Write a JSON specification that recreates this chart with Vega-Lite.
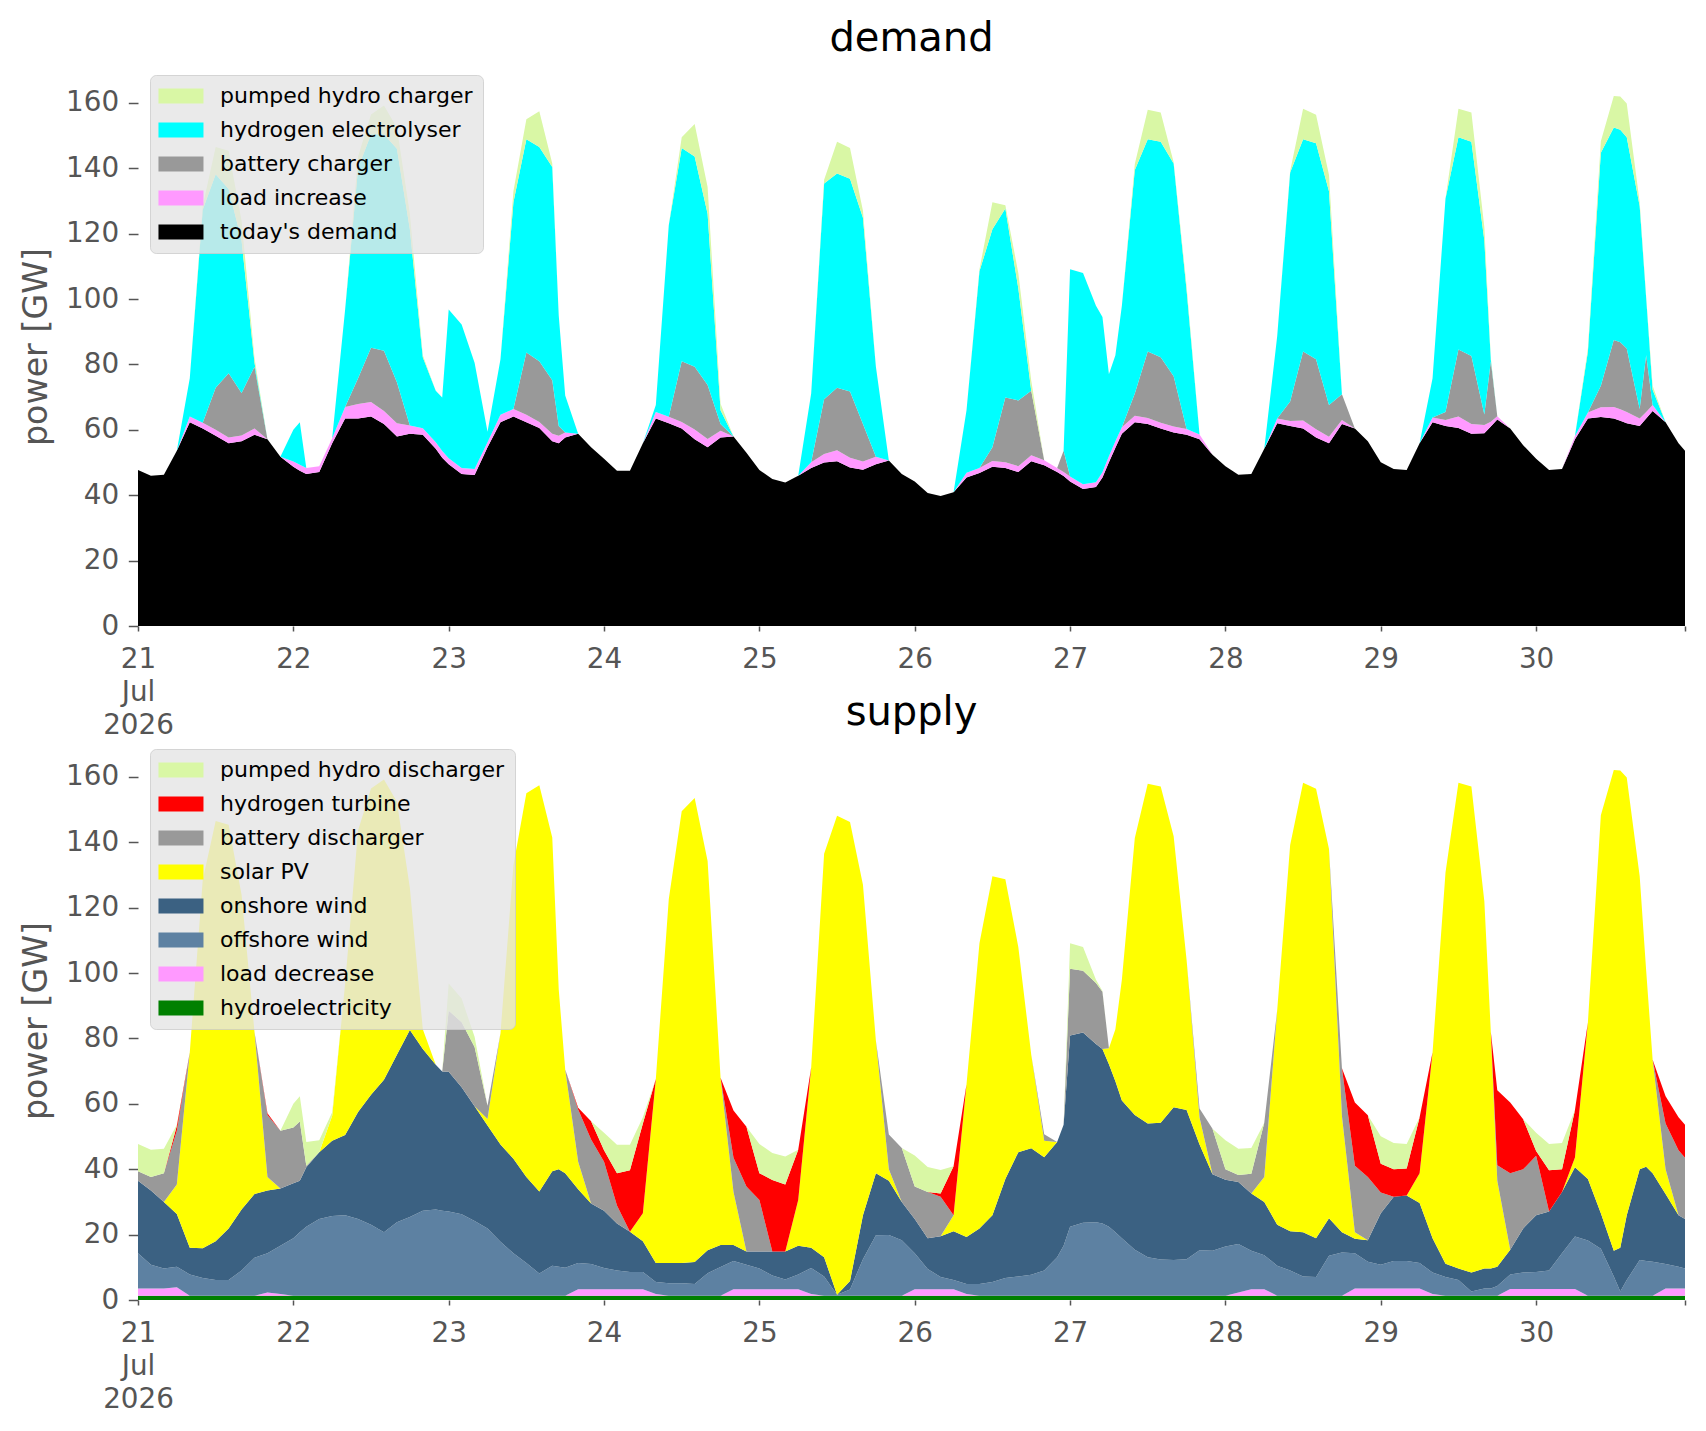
{
  "$schema": "https://vega.github.io/schema/vega-lite/v6.json",
  "background": "white",
  "padding": {"left": 19, "top": 19, "right": 14, "bottom": 18},
  "bounds": "flush",
  "spacing": 115,
  "datasets": {
    "d": [
      {"t":"2026-07-21T00:00","dem":47.7,"li":0,"bat":0,"h2":0,"phs":0,"hyd":1.3,"ld":2.2,"off":10.8,"on":22.2,"pv":0,"batd":2.9,"h2t":0,"phsd":8.3},
      {"t":"2026-07-21T02:00","dem":46.0,"li":0,"bat":0,"h2":0,"phs":0,"hyd":1.3,"ld":2.2,"off":7.3,"on":22.7,"pv":0,"batd":4.1,"h2t":0,"phsd":8.4},
      {"t":"2026-07-21T04:00","dem":46.3,"li":0,"bat":0,"h2":0,"phs":0,"hyd":1.3,"ld":2.2,"off":6.1,"on":20.4,"pv":0,"batd":8.8,"h2t":0,"phsd":7.5},
      {"t":"2026-07-21T06:00","dem":53.6,"li":0,"bat":0,"h2":0,"phs":0,"hyd":1.3,"ld":2.6,"off":6.3,"on":16.1,"pv":9.0,"batd":16.5,"h2t":1.5,"phsd":0.3},
      {"t":"2026-07-21T08:00","dem":62.3,"li":1.8,"bat":0,"h2":11.7,"phs":0,"hyd":1.3,"ld":0,"off":6.5,"on":8.2,"pv":59.8,"batd":0,"h2t":0,"phsd":0},
      {"t":"2026-07-21T10:00","dem":60.4,"li":1.8,"bat":0,"h2":65.1,"phs":1.2,"hyd":1.3,"ld":0,"off":5.4,"on":9.1,"pv":112.7,"batd":0,"h2t":0,"phsd":0},
      {"t":"2026-07-21T12:00","dem":58.2,"li":1.8,"bat":12.9,"h2":65.3,"phs":8.3,"hyd":1.3,"ld":0,"off":4.8,"on":11.9,"pv":128.5,"batd":0,"h2t":0,"phsd":0},
      {"t":"2026-07-21T14:00","dem":55.9,"li":1.8,"bat":19.6,"h2":56.4,"phs":11.7,"hyd":1.3,"ld":0,"off":4.8,"on":15.8,"pv":123.5,"batd":0,"h2t":0,"phsd":0},
      {"t":"2026-07-21T16:00","dem":56.5,"li":1.8,"bat":13.0,"h2":46.6,"phs":6.1,"hyd":1.3,"ld":0,"off":7.7,"on":18.7,"pv":96.3,"batd":0,"h2t":0,"phsd":0},
      {"t":"2026-07-21T18:00","dem":58.5,"li":1.9,"bat":18.9,"h2":1.2,"phs":1.5,"hyd":1.3,"ld":0,"off":11.6,"on":19.5,"pv":49.6,"batd":0,"h2t":0,"phsd":0},
      {"t":"2026-07-21T20:00","dem":57.1,"li":0,"bat":0,"h2":0,"phs":0,"hyd":1.3,"ld":1.0,"off":12.0,"on":19.2,"pv":4.1,"batd":19.0,"h2t":0.5,"phsd":0},
      {"t":"2026-07-21T22:00","dem":51.8,"li":0,"bat":0,"h2":0,"phs":0,"hyd":1.3,"ld":0.5,"off":14.8,"on":17.5,"pv":0,"batd":17.7,"h2t":0,"phsd":0},
      {"t":"2026-07-22T00:00","dem":48.7,"li":1.6,"bat":0,"h2":9.7,"phs":0,"hyd":1.3,"ld":0,"off":17.6,"on":16.8,"pv":0,"batd":17.1,"h2t":0,"phsd":7.2},
      {"t":"2026-07-22T01:00","dem":47.5,"li":1.8,"bat":0,"h2":13.0,"phs":0,"hyd":1.3,"ld":0,"off":19.4,"on":15.8,"pv":0,"batd":18.1,"h2t":0,"phsd":7.7},
      {"t":"2026-07-22T02:00","dem":46.5,"li":1.8,"bat":0,"h2":0,"phs":0,"hyd":1.3,"ld":0,"off":21.1,"on":18.2,"pv":0,"batd":0.5,"h2t":0,"phsd":7.2},
      {"t":"2026-07-22T04:00","dem":47.1,"li":1.8,"bat":0,"h2":0,"phs":0,"hyd":1.3,"ld":0,"off":23.5,"on":20.4,"pv":0,"batd":0,"h2t":0,"phsd":3.7},
      {"t":"2026-07-22T06:00","dem":55.9,"li":1.5,"bat":0,"h2":0,"phs":0,"hyd":1.3,"ld":0,"off":24.4,"on":23.0,"pv":7.7,"batd":0,"h2t":0,"phsd":1.0},
      {"t":"2026-07-22T08:00","dem":63.5,"li":3.5,"bat":0,"h2":29.8,"phs":0,"hyd":1.3,"ld":0,"off":24.6,"on":24.6,"pv":46.3,"batd":0,"h2t":0,"phsd":0},
      {"t":"2026-07-22T10:00","dem":63.5,"li":4.4,"bat":7.9,"h2":64.3,"phs":3.5,"hyd":1.3,"ld":0,"off":23.5,"on":32.7,"pv":86.1,"batd":0,"h2t":0,"phsd":0},
      {"t":"2026-07-22T12:00","dem":64.1,"li":4.4,"bat":16.6,"h2":65.3,"phs":6.1,"hyd":1.3,"ld":0,"off":21.7,"on":39.8,"pv":93.7,"batd":0,"h2t":0,"phsd":0},
      {"t":"2026-07-22T14:00","dem":61.8,"li":4.0,"bat":18.4,"h2":66.2,"phs":8.8,"hyd":1.3,"ld":0,"off":19.4,"on":46.7,"pv":91.8,"batd":0,"h2t":0,"phsd":0},
      {"t":"2026-07-22T16:00","dem":58.0,"li":4.0,"bat":12.6,"h2":71.4,"phs":6.4,"hyd":1.3,"ld":0,"off":22.5,"on":51.2,"pv":77.4,"batd":0,"h2t":0,"phsd":0},
      {"t":"2026-07-22T18:00","dem":58.8,"li":2.5,"bat":0,"h2":60.1,"phs":4.7,"hyd":1.3,"ld":0,"off":24.1,"on":57.2,"pv":43.5,"batd":0,"h2t":0,"phsd":0},
      {"t":"2026-07-22T20:00","dem":58.5,"li":2.0,"bat":0,"h2":21.7,"phs":0.6,"hyd":1.3,"ld":0,"off":26.0,"on":49.5,"pv":6.0,"batd":0,"h2t":0,"phsd":0},
      {"t":"2026-07-22T22:00","dem":54.2,"li":2.0,"bat":0,"h2":15.8,"phs":0,"hyd":1.3,"ld":0,"off":26.4,"on":44.3,"pv":0,"batd":0,"h2t":0,"phsd":0},
      {"t":"2026-07-22T23:00","dem":51.5,"li":2.0,"bat":0,"h2":16.4,"phs":0,"hyd":1.3,"ld":0,"off":26.0,"on":42.6,"pv":0,"batd":0,"h2t":0,"phsd":0},
      {"t":"2026-07-23T00:00","dem":49.5,"li":1.8,"bat":0,"h2":45.5,"phs":0,"hyd":1.3,"ld":0,"off":25.8,"on":42.7,"pv":0,"batd":18.7,"h2t":0,"phsd":8.3},
      {"t":"2026-07-23T02:00","dem":46.5,"li":1.8,"bat":0,"h2":43.9,"phs":0,"hyd":1.3,"ld":0,"off":24.9,"on":38.9,"pv":0,"batd":19.9,"h2t":0,"phsd":7.2},
      {"t":"2026-07-23T04:00","dem":46.2,"li":1.8,"bat":0,"h2":32.5,"phs":0,"hyd":1.3,"ld":0,"off":22.9,"on":35.1,"pv":0,"batd":18.1,"h2t":0,"phsd":3.1},
      {"t":"2026-07-23T06:00","dem":54.7,"li":1.5,"bat":0,"h2":3.2,"phs":0,"hyd":1.3,"ld":0,"off":20.6,"on":31.5,"pv":2.0,"batd":4.0,"h2t":0,"phsd":0},
      {"t":"2026-07-23T08:00","dem":62.3,"li":2.3,"bat":0,"h2":17.0,"phs":0,"hyd":1.3,"ld":0,"off":16.5,"on":29.8,"pv":34.0,"batd":0,"h2t":0,"phsd":0},
      {"t":"2026-07-23T10:00","dem":64.1,"li":2.3,"bat":0,"h2":63.2,"phs":3.4,"hyd":1.3,"ld":0,"off":13.0,"on":28.9,"pv":89.8,"batd":0,"h2t":0,"phsd":0},
      {"t":"2026-07-23T12:00","dem":62.3,"li":2.3,"bat":19.1,"h2":65.2,"phs":6.1,"hyd":1.3,"ld":0,"off":10.0,"on":26.3,"pv":117.4,"batd":0,"h2t":0,"phsd":0},
      {"t":"2026-07-23T14:00","dem":60.6,"li":1.8,"bat":18.6,"h2":65.5,"phs":11.0,"hyd":1.3,"ld":0,"off":6.8,"on":25.1,"pv":124.3,"batd":0,"h2t":0,"phsd":0},
      {"t":"2026-07-23T16:00","dem":56.5,"li":2.3,"bat":16.4,"h2":65.2,"phs":1.1,"hyd":1.3,"ld":0,"off":9.2,"on":28.9,"pv":102.1,"batd":0,"h2t":0,"phsd":0},
      {"t":"2026-07-23T17:00","dem":55.9,"li":2.3,"bat":3.0,"h2":33.8,"phs":0,"hyd":1.3,"ld":0,"off":8.9,"on":29.8,"pv":55.0,"batd":0,"h2t":0,"phsd":0},
      {"t":"2026-07-23T18:00","dem":57.7,"li":1.5,"bat":0,"h2":11.3,"phs":0,"hyd":1.3,"ld":0,"off":8.6,"on":28.9,"pv":31.7,"batd":0,"h2t":0,"phsd":0},
      {"t":"2026-07-23T20:00","dem":58.8,"li":0,"bat":0,"h2":0,"phs":0,"hyd":1.3,"ld":2.0,"off":8.0,"on":22.6,"pv":8.4,"batd":16.0,"h2t":0.5,"phsd":0},
      {"t":"2026-07-23T22:00","dem":54.7,"li":0,"bat":0,"h2":0,"phs":0,"hyd":1.3,"ld":2.0,"off":7.7,"on":18.5,"pv":0,"batd":19.6,"h2t":5.6,"phsd":0},
      {"t":"2026-07-24T00:00","dem":51.2,"li":0,"bat":0,"h2":0,"phs":0,"hyd":1.3,"ld":2.0,"off":6.5,"on":17.5,"pv":0,"batd":15.0,"h2t":3.5,"phsd":5.4},
      {"t":"2026-07-24T02:00","dem":47.5,"li":0,"bat":0,"h2":0,"phs":0,"hyd":1.3,"ld":2.0,"off":5.7,"on":14.4,"pv":0,"batd":5.5,"h2t":9.9,"phsd":8.7},
      {"t":"2026-07-24T04:00","dem":47.5,"li":0,"bat":0,"h2":0,"phs":0,"hyd":1.3,"ld":2.0,"off":5.3,"on":12.3,"pv":0,"batd":0,"h2t":18.8,"phsd":7.8},
      {"t":"2026-07-24T06:00","dem":55.9,"li":0,"bat":0,"h2":0,"phs":0,"hyd":1.3,"ld":2.0,"off":5.3,"on":9.4,"pv":8.5,"batd":0,"h2t":27.5,"phsd":1.9},
      {"t":"2026-07-24T08:00","dem":63.5,"li":2.0,"bat":0,"h2":2.1,"phs":0,"hyd":1.3,"ld":0.5,"off":3.7,"on":5.8,"pv":56.3,"batd":0,"h2t":0,"phsd":0},
      {"t":"2026-07-24T10:00","dem":62.0,"li":2.0,"bat":0,"h2":58.6,"phs":0,"hyd":1.3,"ld":0,"off":3.8,"on":6.2,"pv":111.3,"batd":0,"h2t":0,"phsd":0},
      {"t":"2026-07-24T12:00","dem":60.4,"li":2.0,"bat":18.6,"h2":65.2,"phs":3.3,"hyd":1.3,"ld":0,"off":3.8,"on":6.2,"pv":138.2,"batd":0,"h2t":0,"phsd":0},
      {"t":"2026-07-24T14:00","dem":57.1,"li":3.0,"bat":19.2,"h2":64.3,"phs":10.0,"hyd":1.3,"ld":0,"off":3.6,"on":6.7,"pv":142.0,"batd":0,"h2t":0,"phsd":0},
      {"t":"2026-07-24T16:00","dem":54.7,"li":2.5,"bat":16.5,"h2":52.4,"phs":8.2,"hyd":1.3,"ld":0,"off":6.9,"on":7.0,"pv":119.1,"batd":0,"h2t":0,"phsd":0},
      {"t":"2026-07-24T18:00","dem":57.7,"li":2.0,"bat":2.1,"h2":4.2,"phs":2.0,"hyd":1.3,"ld":0,"off":8.8,"on":6.7,"pv":51.2,"batd":0,"h2t":0,"phsd":0},
      {"t":"2026-07-24T20:00","dem":58.0,"li":0,"bat":0,"h2":0,"phs":0,"hyd":1.3,"ld":2.0,"off":8.6,"on":4.9,"pv":16.2,"batd":10.5,"h2t":14.5,"phsd":0},
      {"t":"2026-07-24T22:00","dem":53.0,"li":0,"bat":0,"h2":0,"phs":0,"hyd":1.3,"ld":2.0,"off":7.5,"on":4.0,"pv":0,"batd":19.9,"h2t":18.3,"phsd":0},
      {"t":"2026-07-25T00:00","dem":47.7,"li":0,"bat":0,"h2":0,"phs":0,"hyd":1.3,"ld":2.0,"off":6.3,"on":5.2,"pv":0,"batd":15.8,"h2t":8.2,"phsd":8.9},
      {"t":"2026-07-25T02:00","dem":45.0,"li":0,"bat":0,"h2":0,"phs":0,"hyd":1.3,"ld":2.0,"off":4.2,"on":7.3,"pv":0,"batd":0,"h2t":21.9,"phsd":8.3},
      {"t":"2026-07-25T04:00","dem":43.9,"li":0,"bat":0,"h2":0,"phs":0,"hyd":1.3,"ld":2.0,"off":3.0,"on":8.5,"pv":0,"batd":0,"h2t":20.5,"phsd":8.6},
      {"t":"2026-07-25T06:00","dem":46.0,"li":0,"bat":0,"h2":0,"phs":0,"hyd":1.3,"ld":2.0,"off":4.5,"on":8.8,"pv":14.0,"batd":0,"h2t":15.4,"phsd":0},
      {"t":"2026-07-25T08:00","dem":48.3,"li":1.8,"bat":0,"h2":21.0,"phs":0,"hyd":1.3,"ld":0.5,"off":8.0,"on":6.2,"pv":55.1,"batd":0,"h2t":0,"phsd":0},
      {"t":"2026-07-25T10:00","dem":50.0,"li":2.6,"bat":16.8,"h2":66.0,"phs":1.1,"hyd":1.3,"ld":0,"off":5.9,"on":5.9,"pv":123.4,"batd":0,"h2t":0,"phsd":0},
      {"t":"2026-07-25T12:00","dem":50.4,"li":3.4,"bat":19.1,"h2":65.5,"phs":9.7,"hyd":1.3,"ld":0,"off":0.3,"on":0,"pv":146.5,"batd":0,"h2t":0,"phsd":0},
      {"t":"2026-07-25T14:00","dem":48.5,"li":3.0,"bat":20.2,"h2":65.1,"phs":9.4,"hyd":1.3,"ld":0,"off":1.9,"on":2.6,"pv":140.4,"batd":0,"h2t":0,"phsd":0},
      {"t":"2026-07-25T16:00","dem":47.8,"li":2.5,"bat":11.5,"h2":63.1,"phs":2.1,"hyd":1.3,"ld":0,"off":11.2,"on":13.4,"pv":101.1,"batd":0,"h2t":0,"phsd":0},
      {"t":"2026-07-25T18:00","dem":49.5,"li":2.3,"bat":0,"h2":27.5,"phs":0,"hyd":1.3,"ld":0,"off":18.5,"on":19.0,"pv":40.5,"batd":0,"h2t":0,"phsd":0},
      {"t":"2026-07-25T20:00","dem":50.6,"li":0,"bat":0,"h2":0,"phs":0,"hyd":1.3,"ld":0,"off":18.6,"on":16.6,"pv":3.5,"batd":10.6,"h2t":0,"phsd":0},
      {"t":"2026-07-25T22:00","dem":46.5,"li":0,"bat":0,"h2":0,"phs":0,"hyd":1.3,"ld":0,"off":17.0,"on":11.7,"pv":0,"batd":16.5,"h2t":0,"phsd":0},
      {"t":"2026-07-26T00:00","dem":44.2,"li":0,"bat":0,"h2":0,"phs":0,"hyd":1.3,"ld":2.0,"off":11.0,"on":10.5,"pv":0,"batd":9.9,"h2t":0,"phsd":9.5},
      {"t":"2026-07-26T02:00","dem":40.7,"li":0,"bat":0,"h2":0,"phs":0,"hyd":1.3,"ld":2.0,"off":6.2,"on":9.4,"pv":0,"batd":14.1,"h2t":0,"phsd":7.7},
      {"t":"2026-07-26T04:00","dem":39.8,"li":0,"bat":0,"h2":0,"phs":0,"hyd":1.3,"ld":2.0,"off":3.7,"on":12.5,"pv":0,"batd":12.1,"h2t":1.0,"phsd":7.2},
      {"t":"2026-07-26T06:00","dem":40.9,"li":0,"bat":0,"h2":0,"phs":0,"hyd":1.3,"ld":2.0,"off":2.8,"on":14.9,"pv":4.9,"batd":0,"h2t":15.0,"phsd":0},
      {"t":"2026-07-26T08:00","dem":45.4,"li":1.5,"bat":0,"h2":19.1,"phs":0,"hyd":1.3,"ld":0.5,"off":3.1,"on":14.4,"pv":46.7,"batd":0,"h2t":0,"phsd":0},
      {"t":"2026-07-26T10:00","dem":46.8,"li":1.5,"bat":0,"h2":60.2,"phs":0.6,"hyd":1.3,"ld":0,"off":3.6,"on":17.0,"pv":87.2,"batd":0,"h2t":0,"phsd":0},
      {"t":"2026-07-26T12:00","dem":48.7,"li":1.8,"bat":4.2,"h2":66.7,"phs":8.2,"hyd":1.3,"ld":0,"off":4.2,"on":20.4,"pv":103.7,"batd":0,"h2t":0,"phsd":0},
      {"t":"2026-07-26T14:00","dem":48.3,"li":1.8,"bat":19.8,"h2":57.8,"phs":1.0,"hyd":1.3,"ld":0,"off":5.4,"on":30.3,"pv":91.7,"batd":0,"h2t":0,"phsd":0},
      {"t":"2026-07-26T16:00","dem":47.1,"li":1.8,"bat":20.1,"h2":34.3,"phs":4.7,"hyd":1.3,"ld":0,"off":5.9,"on":38.0,"pv":62.8,"batd":0,"h2t":0,"phsd":0},
      {"t":"2026-07-26T18:00","dem":50.4,"li":1.8,"bat":19.8,"h2":0,"phs":3.0,"hyd":1.3,"ld":0,"off":6.4,"on":38.7,"pv":28.6,"batd":0,"h2t":0,"phsd":0},
      {"t":"2026-07-26T20:00","dem":49.2,"li":1.5,"bat":0,"h2":0,"phs":0,"hyd":1.3,"ld":0,"off":7.7,"on":34.7,"pv":5.0,"batd":2.0,"h2t":0,"phsd":0},
      {"t":"2026-07-26T22:00","dem":47.1,"li":1.2,"bat":0,"h2":0,"phs":0,"hyd":1.3,"ld":0,"off":11.8,"on":35.2,"pv":0,"batd":0,"h2t":0,"phsd":0},
      {"t":"2026-07-26T23:00","dem":45.9,"li":1.2,"bat":6.5,"h2":0,"phs":0,"hyd":1.3,"ld":0,"off":15.3,"on":37.0,"pv":0,"batd":0,"h2t":0,"phsd":0},
      {"t":"2026-07-27T00:00","dem":44.2,"li":1.5,"bat":0,"h2":63.4,"phs":0,"hyd":1.3,"ld":0,"off":21.1,"on":58.5,"pv":0,"batd":20.4,"h2t":0,"phsd":7.8},
      {"t":"2026-07-27T02:00","dem":41.9,"li":1.5,"bat":0,"h2":64.6,"phs":0,"hyd":1.3,"ld":0,"off":22.3,"on":58.2,"pv":0,"batd":18.9,"h2t":0,"phsd":7.3},
      {"t":"2026-07-27T04:00","dem":42.5,"li":1.5,"bat":0,"h2":54.0,"phs":0,"hyd":1.3,"ld":0,"off":22.5,"on":54.5,"pv":0,"batd":18.7,"h2t":0,"phsd":1.0},
      {"t":"2026-07-27T05:00","dem":45.4,"li":1.6,"bat":0,"h2":47.5,"phs":0,"hyd":1.3,"ld":0,"off":22.1,"on":53.4,"pv":0,"batd":17.5,"h2t":0,"phsd":0.2},
      {"t":"2026-07-27T06:00","dem":50.1,"li":1.8,"bat":0,"h2":25.1,"phs":0,"hyd":1.3,"ld":0,"off":21.1,"on":49.7,"pv":4.9,"batd":0,"h2t":0,"phsd":0},
      {"t":"2026-07-27T07:00","dem":54.5,"li":2.0,"bat":0,"h2":26.3,"phs":0,"hyd":1.3,"ld":0,"off":19.4,"on":46.2,"pv":15.9,"batd":0,"h2t":0,"phsd":0},
      {"t":"2026-07-27T08:00","dem":58.8,"li":2.0,"bat":0,"h2":37.2,"phs":0,"hyd":1.3,"ld":0,"off":17.6,"on":42.1,"pv":37.0,"batd":0,"h2t":0,"phsd":0},
      {"t":"2026-07-27T10:00","dem":62.3,"li":2.0,"bat":6.8,"h2":68.4,"phs":1.8,"hyd":1.3,"ld":0,"off":14.1,"on":41.2,"pv":84.7,"batd":0,"h2t":0,"phsd":0},
      {"t":"2026-07-27T12:00","dem":61.8,"li":1.8,"bat":20.4,"h2":64.9,"phs":9.0,"hyd":1.3,"ld":0,"off":11.8,"on":40.9,"pv":103.9,"batd":0,"h2t":0,"phsd":0},
      {"t":"2026-07-27T14:00","dem":60.4,"li":1.8,"bat":20.0,"h2":65.9,"phs":9.0,"hyd":1.3,"ld":0,"off":11.1,"on":41.8,"pv":102.9,"batd":0,"h2t":0,"phsd":0},
      {"t":"2026-07-27T16:00","dem":59.2,"li":1.8,"bat":15.4,"h2":65.1,"phs":0.4,"hyd":1.3,"ld":0,"off":10.9,"on":46.8,"pv":82.9,"batd":0,"h2t":0,"phsd":0},
      {"t":"2026-07-27T18:00","dem":58.5,"li":1.8,"bat":0,"h2":42.4,"phs":1.3,"hyd":1.3,"ld":0,"off":11.2,"on":45.6,"pv":45.9,"batd":0,"h2t":0,"phsd":0},
      {"t":"2026-07-27T20:00","dem":57.1,"li":1.5,"bat":0,"h2":0,"phs":0,"hyd":1.3,"ld":0,"off":13.9,"on":32.4,"pv":8.2,"batd":2.8,"h2t":0,"phsd":0},
      {"t":"2026-07-27T22:00","dem":52.4,"li":0,"bat":0,"h2":0,"phs":0,"hyd":1.3,"ld":0,"off":13.8,"on":23.4,"pv":0,"batd":13.9,"h2t":0,"phsd":0},
      {"t":"2026-07-28T00:00","dem":48.9,"li":0,"bat":0,"h2":0,"phs":0,"hyd":1.3,"ld":0,"off":15.1,"on":20.4,"pv":0,"batd":3.2,"h2t":0,"phsd":8.9},
      {"t":"2026-07-28T02:00","dem":46.3,"li":0,"bat":0,"h2":0,"phs":0,"hyd":1.3,"ld":1.0,"off":14.8,"on":19.0,"pv":0,"batd":2.1,"h2t":0,"phsd":8.1},
      {"t":"2026-07-28T04:00","dem":46.5,"li":0,"bat":0,"h2":0,"phs":0,"hyd":1.3,"ld":2.0,"off":11.8,"on":17.5,"pv":0,"batd":6.0,"h2t":0,"phsd":7.9},
      {"t":"2026-07-28T06:00","dem":54.2,"li":0,"bat":0,"h2":0,"phs":0,"hyd":1.3,"ld":2.0,"off":10.4,"on":16.3,"pv":7.6,"batd":16.6,"h2t":0,"phsd":0},
      {"t":"2026-07-28T08:00","dem":62.0,"li":1.5,"bat":0,"h2":25.2,"phs":0,"hyd":1.3,"ld":0,"off":9.2,"on":12.5,"pv":65.7,"batd":0,"h2t":0,"phsd":0},
      {"t":"2026-07-28T10:00","dem":61.2,"li":1.5,"bat":6.0,"h2":70.0,"phs":0.5,"hyd":1.3,"ld":0,"off":7.7,"on":12.0,"pv":118.2,"batd":0,"h2t":0,"phsd":0},
      {"t":"2026-07-28T12:00","dem":60.4,"li":2.5,"bat":21.1,"h2":64.9,"phs":9.3,"hyd":1.3,"ld":0,"off":5.9,"on":13.5,"pv":137.5,"batd":0,"h2t":0,"phsd":0},
      {"t":"2026-07-28T14:00","dem":57.7,"li":2.5,"bat":21.4,"h2":66.1,"phs":8.7,"hyd":1.3,"ld":0,"off":5.7,"on":11.9,"pv":137.5,"batd":0,"h2t":0,"phsd":0},
      {"t":"2026-07-28T16:00","dem":55.9,"li":2.0,"bat":9.7,"h2":65.4,"phs":5.0,"hyd":1.3,"ld":0,"off":12.2,"on":11.5,"pv":113.0,"batd":0,"h2t":0,"phsd":0},
      {"t":"2026-07-28T18:00","dem":61.8,"li":1.2,"bat":7.9,"h2":0,"phs":0,"hyd":1.3,"ld":0,"off":13.2,"on":6.2,"pv":35.6,"batd":14.6,"h2t":0,"phsd":0},
      {"t":"2026-07-28T20:00","dem":60.4,"li":0,"bat":0,"h2":0,"phs":0,"hyd":1.3,"ld":2.2,"off":10.8,"on":4.4,"pv":2.0,"batd":20.4,"h2t":19.3,"phsd":0},
      {"t":"2026-07-28T22:00","dem":56.5,"li":0,"bat":0,"h2":0,"phs":0,"hyd":1.3,"ld":2.2,"off":8.2,"on":6.6,"pv":0,"batd":19.3,"h2t":18.9,"phsd":0},
      {"t":"2026-07-29T00:00","dem":50.1,"li":0,"bat":0,"h2":0,"phs":0,"hyd":1.3,"ld":2.2,"off":7.3,"on":15.7,"pv":0,"batd":6.4,"h2t":8.8,"phsd":8.4},
      {"t":"2026-07-29T02:00","dem":48.0,"li":0,"bat":0,"h2":0,"phs":0,"hyd":1.3,"ld":2.2,"off":8.4,"on":19.7,"pv":0,"batd":0,"h2t":8.4,"phsd":8.0},
      {"t":"2026-07-29T04:00","dem":47.7,"li":0,"bat":0,"h2":0,"phs":0,"hyd":1.3,"ld":2.2,"off":8.4,"on":20.1,"pv":0,"batd":0,"h2t":8.2,"phsd":7.5},
      {"t":"2026-07-29T06:00","dem":55.9,"li":0,"bat":0,"h2":0,"phs":0,"hyd":1.3,"ld":2.2,"off":7.8,"on":18.4,"pv":9.1,"batd":0,"h2t":17.1,"phsd":0},
      {"t":"2026-07-29T08:00","dem":62.3,"li":1.5,"bat":0,"h2":12.0,"phs":0,"hyd":1.3,"ld":0.5,"off":6.6,"on":10.5,"pv":56.9,"batd":0,"h2t":0,"phsd":0},
      {"t":"2026-07-29T10:00","dem":61.2,"li":1.8,"bat":2.5,"h2":65.3,"phs":0,"hyd":1.3,"ld":0,"off":5.7,"on":4.1,"pv":119.7,"batd":0,"h2t":0,"phsd":0},
      {"t":"2026-07-29T12:00","dem":60.6,"li":3.5,"bat":20.5,"h2":64.9,"phs":8.7,"hyd":1.3,"ld":0,"off":4.8,"on":3.5,"pv":148.6,"batd":0,"h2t":0,"phsd":0},
      {"t":"2026-07-29T14:00","dem":58.8,"li":3.0,"bat":20.8,"h2":65.5,"phs":9.0,"hyd":1.3,"ld":0,"off":1.3,"on":5.8,"pv":148.7,"batd":0,"h2t":0,"phsd":0},
      {"t":"2026-07-29T16:00","dem":59.0,"li":2.5,"bat":3.2,"h2":53.3,"phs":4.0,"hyd":1.3,"ld":0,"off":2.2,"on":6.1,"pv":112.4,"batd":0,"h2t":0,"phsd":0},
      {"t":"2026-07-29T17:00","dem":61.0,"li":1.5,"bat":18.5,"h2":0.5,"phs":0.5,"hyd":1.3,"ld":0,"off":2.2,"on":6.1,"pv":72.4,"batd":0,"h2t":0,"phsd":0},
      {"t":"2026-07-29T18:00","dem":63.2,"li":1.0,"bat":0,"h2":0,"phs":0,"hyd":1.3,"ld":0,"off":3.0,"on":5.9,"pv":26.3,"batd":4.7,"h2t":23.0,"phsd":0},
      {"t":"2026-07-29T20:00","dem":60.4,"li":0,"bat":0,"h2":0,"phs":0,"hyd":1.3,"ld":2.1,"off":4.4,"on":7.6,"pv":0,"batd":23.4,"h2t":21.6,"phsd":0},
      {"t":"2026-07-29T22:00","dem":55.3,"li":0,"bat":0,"h2":0,"phs":0,"hyd":1.3,"ld":2.1,"off":5.0,"on":13.5,"pv":0,"batd":18.1,"h2t":15.3,"phsd":0},
      {"t":"2026-07-30T00:00","dem":51.2,"li":0,"bat":0,"h2":0,"phs":0,"hyd":1.3,"ld":2.1,"off":5.2,"on":17.3,"pv":0,"batd":18.2,"h2t":1.5,"phsd":5.6},
      {"t":"2026-07-30T02:00","dem":47.7,"li":0,"bat":0,"h2":0,"phs":0,"hyd":1.3,"ld":2.1,"off":5.6,"on":18.1,"pv":0,"batd":0,"h2t":12.6,"phsd":8.0},
      {"t":"2026-07-30T04:00","dem":48.0,"li":0,"bat":0,"h2":0,"phs":0,"hyd":1.3,"ld":2.1,"off":10.9,"on":18.7,"pv":0,"batd":0,"h2t":7.0,"phsd":8.0},
      {"t":"2026-07-30T06:00","dem":57.1,"li":1.0,"bat":0,"h2":0,"phs":0,"hyd":1.3,"ld":2.1,"off":16.0,"on":21.2,"pv":3.0,"batd":0,"h2t":14.5,"phsd":0},
      {"t":"2026-07-30T08:00","dem":63.5,"li":1.8,"bat":0,"h2":18.7,"phs":1.0,"hyd":1.3,"ld":0,"off":16.9,"on":18.8,"pv":48.0,"batd":0,"h2t":0,"phsd":0},
      {"t":"2026-07-30T10:00","dem":63.9,"li":3.0,"bat":6.6,"h2":71.3,"phs":3.5,"hyd":1.3,"ld":0,"off":14.4,"on":10.8,"pv":121.8,"batd":0,"h2t":0,"phsd":0},
      {"t":"2026-07-30T12:00","dem":63.5,"li":3.5,"bat":20.5,"h2":65.0,"phs":9.6,"hyd":1.3,"ld":0,"off":5.9,"on":7.9,"pv":147.0,"batd":0,"h2t":0,"phsd":0},
      {"t":"2026-07-30T13:00","dem":62.8,"li":3.5,"bat":20.5,"h2":65.0,"phs":10.2,"hyd":1.3,"ld":0,"off":1.3,"on":13.4,"pv":146.0,"batd":0,"h2t":0,"phsd":0},
      {"t":"2026-07-30T14:00","dem":62.0,"li":3.5,"bat":19.4,"h2":64.6,"phs":10.3,"hyd":1.3,"ld":0,"off":4.8,"on":19.8,"pv":133.9,"batd":0,"h2t":0,"phsd":0},
      {"t":"2026-07-30T16:00","dem":61.2,"li":2.3,"bat":2.9,"h2":62.0,"phs":1.2,"hyd":1.3,"ld":0,"off":10.9,"on":27.8,"pv":89.6,"batd":0,"h2t":0,"phsd":0},
      {"t":"2026-07-30T17:00","dem":63.5,"li":2.0,"bat":17.3,"h2":17.6,"phs":0.4,"hyd":1.3,"ld":0,"off":10.6,"on":28.9,"pv":60.0,"batd":0,"h2t":0,"phsd":0},
      {"t":"2026-07-30T18:00","dem":65.8,"li":1.8,"bat":0,"h2":4.7,"phs":1.2,"hyd":1.3,"ld":0,"off":10.4,"on":27.1,"pv":34.7,"batd":0,"h2t":0,"phsd":0},
      {"t":"2026-07-30T20:00","dem":62.3,"li":0,"bat":0,"h2":0,"phs":0,"hyd":1.3,"ld":2.2,"off":7.5,"on":21.4,"pv":7.6,"batd":14.0,"h2t":8.3,"phsd":0},
      {"t":"2026-07-30T22:00","dem":55.9,"li":0,"bat":0,"h2":0,"phs":0,"hyd":1.3,"ld":2.2,"off":6.7,"on":15.7,"pv":0,"batd":19.9,"h2t":10.1,"phsd":0},
      {"t":"2026-07-30T23:00","dem":53.6,"li":0,"bat":0,"h2":0,"phs":0,"hyd":1.3,"ld":2.2,"off":6.1,"on":15.2,"pv":0,"batd":18.7,"h2t":10.1,"phsd":0}
    ]
  },
  "vconcat": [
    {
      "title": "demand",
      "width": 1547,
      "height": 559,
      "data": {"name": "d"},
      "transform": [
        {"fold": ["dem", "li", "bat", "h2", "phs"], "as": ["k", "v"]},
        {"calculate": "indexof(['dem','li','bat','h2','phs'], datum.k)", "as": "o"},
        {"calculate": "[\"today's demand\",'load increase','battery charger','hydrogen electrolyser','pumped hydro charger'][datum.o]", "as": "series"}
      ],
      "mark": {"type": "area", "interpolate": "linear"},
      "encoding": {
        "x": {
          "field": "t", "type": "temporal",
          "scale": {"domain": [{"year": 2026, "month": 7, "date": 21}, {"year": 2026, "month": 7, "date": 30, "hours": 23}]},
          "axis": {
            "title": null,
            "values": [{"year": 2026, "month": 7, "date": 21}, {"year": 2026, "month": 7, "date": 22}, {"year": 2026, "month": 7, "date": 23}, {"year": 2026, "month": 7, "date": 24}, {"year": 2026, "month": 7, "date": 25}, {"year": 2026, "month": 7, "date": 26}, {"year": 2026, "month": 7, "date": 27}, {"year": 2026, "month": 7, "date": 28}, {"year": 2026, "month": 7, "date": 29}, {"year": 2026, "month": 7, "date": 30}, {"year": 2026, "month": 7, "date": 30, "hours": 23}],
            "tickSize": 5, "labelPadding": 14, "labelLineHeight": 33.4,
            "labelExpr": "hours(datum.value) != 0 ? '' : date(datum.value) == 21 ? ['21', 'Jul', '2026'] : '' + date(datum.value)",
            "labelOverlap": false, "labelFlush": false
          }
        },
        "y": {
          "field": "v", "type": "quantitative", "stack": "zero",
          "scale": {"domain": [0, 171], "nice": false},
          "axis": {"title": "power [GW]", "values": [0, 20, 40, 60, 80, 100, 120, 140, 160], "tickSize": 9.7, "labelPadding": 9.7, "titlePadding": 12}
        },
        "color": {
          "field": "series", "type": "nominal",
          "scale": {
            "domain": ["pumped hydro charger", "hydrogen electrolyser", "battery charger", "load increase", "today's demand"],
            "range": ["#d9f7a5", "#00ffff", "#999999", "#ff99ff", "#000000"]
          },
          "legend": {"title": null}
        },
        "order": {"field": "o", "type": "quantitative"}
      }
    },
    {
      "title": "supply",
      "width": 1547,
      "height": 559,
      "data": {"name": "d"},
      "transform": [
        {"fold": ["hyd", "ld", "off", "on", "pv", "batd", "h2t", "phsd"], "as": ["k", "v"]},
        {"calculate": "indexof(['hyd','ld','off','on','pv','batd','h2t','phsd'], datum.k)", "as": "o"},
        {"calculate": "['hydroelectricity','load decrease','offshore wind','onshore wind','solar PV','battery discharger','hydrogen turbine','pumped hydro discharger'][datum.o]", "as": "series"}
      ],
      "mark": {"type": "area", "interpolate": "linear"},
      "encoding": {
        "x": {
          "field": "t", "type": "temporal",
          "scale": {"domain": [{"year": 2026, "month": 7, "date": 21}, {"year": 2026, "month": 7, "date": 30, "hours": 23}]},
          "axis": {
            "title": null,
            "values": [{"year": 2026, "month": 7, "date": 21}, {"year": 2026, "month": 7, "date": 22}, {"year": 2026, "month": 7, "date": 23}, {"year": 2026, "month": 7, "date": 24}, {"year": 2026, "month": 7, "date": 25}, {"year": 2026, "month": 7, "date": 26}, {"year": 2026, "month": 7, "date": 27}, {"year": 2026, "month": 7, "date": 28}, {"year": 2026, "month": 7, "date": 29}, {"year": 2026, "month": 7, "date": 30}, {"year": 2026, "month": 7, "date": 30, "hours": 23}],
            "tickSize": 5, "labelPadding": 14, "labelLineHeight": 33.4,
            "labelExpr": "hours(datum.value) != 0 ? '' : date(datum.value) == 21 ? ['21', 'Jul', '2026'] : '' + date(datum.value)",
            "labelOverlap": false, "labelFlush": false
          }
        },
        "y": {
          "field": "v", "type": "quantitative", "stack": "zero",
          "scale": {"domain": [0, 171], "nice": false},
          "axis": {"title": "power [GW]", "values": [0, 20, 40, 60, 80, 100, 120, 140, 160], "tickSize": 9.7, "labelPadding": 9.7, "titlePadding": 12}
        },
        "color": {
          "field": "series", "type": "nominal",
          "scale": {
            "domain": ["pumped hydro discharger", "hydrogen turbine", "battery discharger", "solar PV", "onshore wind", "offshore wind", "load decrease", "hydroelectricity"],
            "range": ["#d9f7a5", "#ff0000", "#999999", "#ffff00", "#3b6182", "#5d81a2", "#ff99ff", "#008000"]
          },
          "legend": {"title": null}
        },
        "order": {"field": "o", "type": "quantitative"}
      }
    }
  ],
  "resolve": {
    "scale": {"color": "independent", "x": "independent", "y": "independent"},
    "legend": {"color": "independent"}
  },
  "config": {
    "font": "DejaVu Sans",
    "view": {"stroke": null},
    "axis": {
      "domain": false, "grid": false,
      "labelFont": "DejaVu Sans", "labelFontSize": 27.8, "labelColor": "#555555",
      "tickColor": "#555555", "tickWidth": 1.5,
      "titleFont": "DejaVu Sans", "titleFontSize": 33.3, "titleFontWeight": "normal", "titleColor": "#555555"
    },
    "title": {"font": "DejaVu Sans", "fontSize": 40, "fontWeight": "normal", "color": "#000000", "anchor": "middle", "offset": 8},
    "legend": {
      "orient": "none", "legendX": 12, "legendY": 8, "padding": 10, "cornerRadius": 6,
      "fillColor": "rgba(229,229,229,0.8)", "strokeColor": "rgba(204,204,204,0.8)",
      "labelFont": "DejaVu Sans", "labelFontSize": 22, "labelColor": "#000000", "labelLimit": 0,
      "symbolType": "M-1.67,-1H4.33V1H-1.67Z", "symbolSize": 225, "symbolStrokeWidth": 0, "symbolOpacity": 1,
      "labelOffset": 38, "rowPadding": 12
    }
  }
}
